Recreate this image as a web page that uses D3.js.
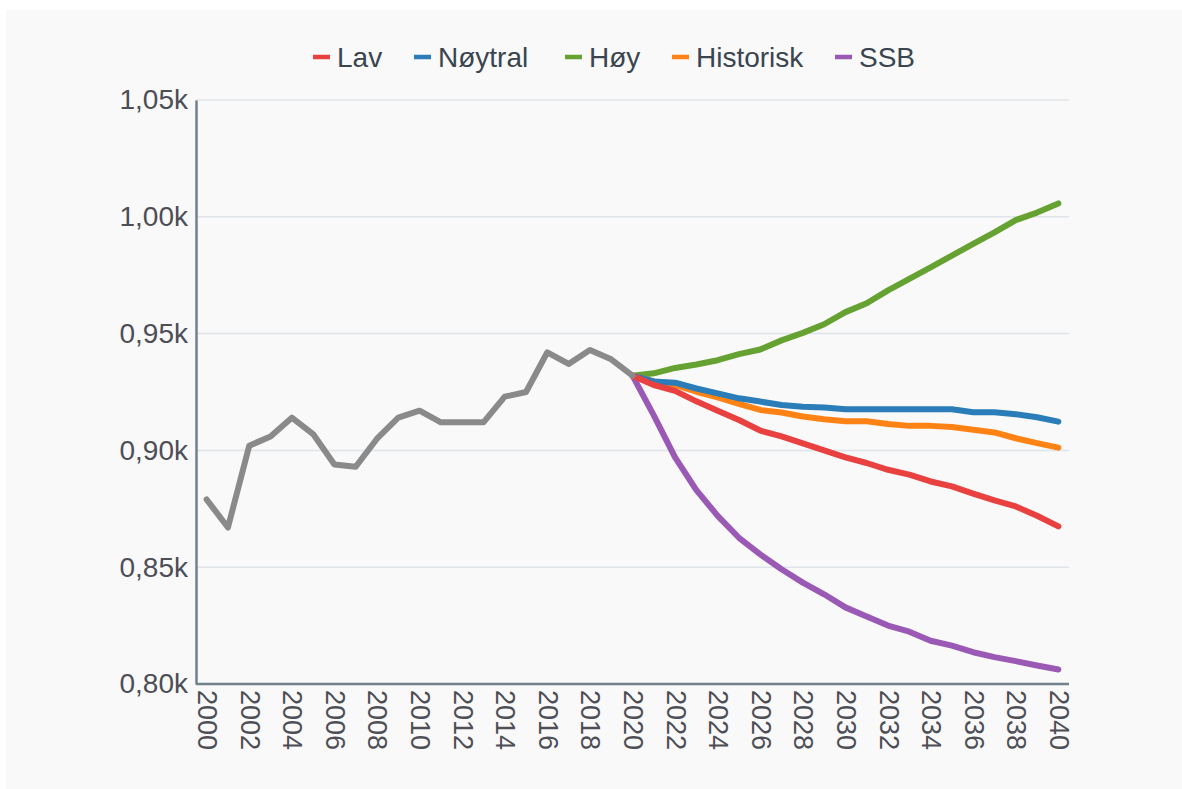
<!DOCTYPE html>
<html>
<head>
<meta charset="utf-8">
<script src="https://cdn.jsdelivr.net/npm/d3@7"></script>
<style>
  html, body { margin: 0; padding: 0; background: #ffffff; }
  svg { display: block; }
  text { font-family: "Liberation Sans", Arial, sans-serif; }
</style>
</head>
<body>
<svg id="chart" width="1182" height="789"></svg>
<script>
// ---- data ----
const histYears = d3.range(2000, 2021);
const histValues = [879, 867, 902, 906, 914, 907, 894, 893, 905, 914, 917, 912, 912, 912, 923, 925, 942, 937, 943, 939, 932];

const projYears = d3.range(2020, 2041);
const lav       = [932, 928, 925.5, 921, 917, 913, 908.5, 906, 903, 900, 897, 894.6, 891.7, 889.6, 886.7, 884.6, 881.5, 878.6, 876, 872, 867.5];
const noytral   = [932, 929.5, 929, 926.5, 924.4, 922.3, 920.9, 919.4, 918.7, 918.4, 917.6, 917.6, 917.6, 917.6, 917.6, 917.6, 916.3, 916.3, 915.5, 914.2, 912.3];
const hoy       = [932, 933, 935.3, 936.8, 938.6, 941.2, 943.2, 947.1, 950.3, 954, 959.2, 963, 968.5, 973.4, 978.4, 983.4, 988.4, 993.3, 998.6, 1001.8, 1005.7];
const historisk = [932, 929.5, 928, 925.1, 922.7, 919.9, 917.3, 916.2, 914.5, 913.3, 912.5, 912.5, 911.3, 910.5, 910.5, 910, 908.8, 907.7, 905.2, 903.1, 901.2];
const ssb       = [932, 915, 897, 883, 872, 862.6, 855.5, 849.1, 843.4, 838.4, 832.8, 828.9, 825, 822.4, 818.5, 816.4, 813.6, 811.5, 809.8, 807.9, 806.2];

const seriesNames = ["Lav", "Nøytral", "Høy", "Historisk", "SSB"];
const seriesValues = [lav, noytral, hoy, historisk, ssb];
const seriesColors = ["#e8413f", "#2a7db8", "#65a232", "#ff8214", "#9b59b6"];
const histColor = "#8a8a8a";
const drawOrder = ["SSB", "Høy", "Historisk", "Nøytral", "Lav"];

const yTicks = [800, 850, 900, 950, 1000, 1050];
const xTicks = d3.range(2000, 2041, 2);

// ---- layout ----
const svg = d3.select("#chart");
const W = 1182, H = 789;
const plot = { left: 196, right: 1069, top: 100, bottom: 684 };

svg.append("rect").attr("x", 6).attr("y", 10).attr("width", W - 6).attr("height", H - 10)
  .attr("fill", "#f9f9f9");

const allYears = d3.range(2000, 2041);
const x = d3.scalePoint().domain(allYears).range([plot.left, plot.right]).padding(0.5);
const y = d3.scaleLinear().domain([800, 1050]).range([plot.bottom, plot.top]);

const fmt = v => d3.format(".2f")(v / 1000).replace(".", ",") + "k";

// gridlines
svg.append("g").selectAll("line").data(yTicks.filter(t => t > 800)).join("line")
  .attr("x1", plot.left).attr("x2", plot.right)
  .attr("y1", d => y(d)).attr("y2", d => y(d))
  .attr("stroke", "#dfe4e9").attr("stroke-width", 1.5);

// y axis
const yAxis = svg.append("g").attr("transform", `translate(${plot.left},0)`)
  .call(d3.axisLeft(y).tickValues(yTicks).tickFormat(fmt).tickSize(0).tickPadding(8));
yAxis.select(".domain").attr("stroke", "#72828c").attr("stroke-width", 2.5);
yAxis.selectAll("text").attr("font-size", 28).attr("fill", "#4e4e56")
  .attr("font-family", "Liberation Sans, Arial, sans-serif");

// x axis
const xAxis = svg.append("g").attr("transform", `translate(0,${plot.bottom})`)
  .call(d3.axisBottom(x).tickValues(xTicks).tickSize(0).tickPadding(0));
xAxis.select(".domain").attr("stroke", "#72828c").attr("stroke-width", 2.5)
  .attr("d", `M${plot.left},0H${plot.right}`);
xAxis.selectAll("text")
  .attr("font-size", 27).attr("fill", "#4e4e56")
  .attr("font-family", "Liberation Sans, Arial, sans-serif")
  .attr("text-anchor", "start")
  .attr("dy", null).attr("y", 0)
  .attr("transform", "translate(0,6) rotate(90)")
  .attr("x", 0)
  .attr("dominant-baseline", "central");

// lines
const line = d3.line().x(d => x(d[0])).y(d => y(d[1]));
const lines = svg.append("g").attr("fill", "none").attr("stroke-width", 6)
  .attr("stroke-linejoin", "round").attr("stroke-linecap", "round");

drawOrder.forEach(name => {
  const i = seriesNames.indexOf(name);
  lines.append("path")
    .datum(projYears.map((yr, j) => [yr, seriesValues[i][j]]))
    .attr("stroke", seriesColors[i]).attr("d", line);
});
lines.append("path")
  .datum(histYears.map((yr, j) => [yr, histValues[j]]))
  .attr("stroke", histColor).attr("d", line);

// legend
const legend = svg.append("g").attr("transform", "translate(0,57)");
const legendX = [313, 414, 565, 672, 835];
seriesNames.forEach((name, i) => {
  const g = legend.append("g").attr("transform", `translate(${legendX[i]},0)`);
  g.append("line").attr("x1", 0).attr("x2", 17).attr("y1", 0).attr("y2", 0)
    .attr("stroke", seriesColors[i]).attr("stroke-width", 4.5);
  g.append("text").attr("x", 24).attr("y", 0).attr("dy", "0.35em")
    .attr("font-size", 28).attr("fill", "#3a4550").text(name);
});
</script>
</body>
</html>
